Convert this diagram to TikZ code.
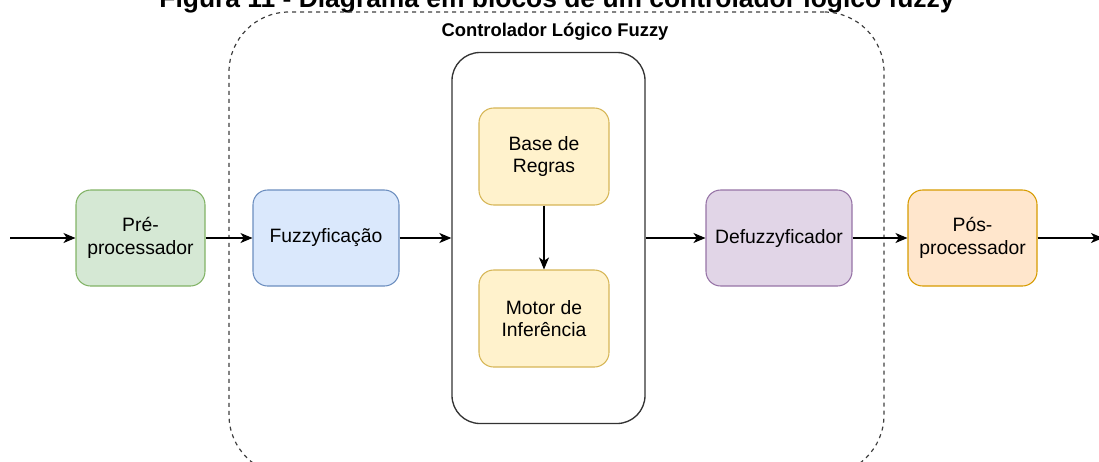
\documentclass[tikz,border=0pt]{standalone}
\usepackage{fontspec}
\setmainfont{Liberation Sans}
\usetikzlibrary{arrows.meta}

\definecolor{verdeF}{HTML}{D5E8D4}\definecolor{verdeL}{HTML}{82B366}
\definecolor{azulF}{HTML}{DAE8FC}\definecolor{azulL}{HTML}{6C8EBF}
\definecolor{amareloF}{HTML}{FFF2CC}\definecolor{amareloL}{HTML}{D6B656}
\definecolor{roxoF}{HTML}{E1D5E7}\definecolor{roxoL}{HTML}{9673A6}
\definecolor{laranjaF}{HTML}{FFE6CC}\definecolor{laranjaL}{HTML}{D79B00}

\tikzset{
  bloco/.style={draw,line width=0.8pt,rounded corners=11pt,align=center,inner sep=0pt,
    minimum width=96.75pt,minimum height=72pt,font=\fontsize{14.5}{17}\selectfont},
  >={Stealth[length=9pt,width=7.5pt,inset=2.5pt]}
}

\begin{document}
\begin{tikzpicture}[x=0.75pt,y=-0.75pt,line width=0.9pt]
                \useasboundingbox (0,0) rectangle (1099,461);
                \node[font=\bfseries\fontsize{19.8}{22}\selectfont,anchor=base] (titulo) at (557,7) {Figura 11 - Diagrama em blocos de um controlador lógico fuzzy};
                \node[draw=black!75,dash pattern=on 3pt off 3pt,line width=0.9pt,rounded corners=45pt,minimum width=491.25pt,minimum height=347.25pt] (sistema) at (556.5,243.5) {};
                \node[font=\bfseries\fontsize{13.8}{16}\selectfont] (rotulo) at (555,32) {Controlador Lógico Fuzzy};
                \node[draw=black!80,line width=1pt,rounded corners=21pt,minimum width=144.75pt,minimum height=278.25pt] (flc) at (548.5,238) {};
                \coordinate (entrada) at (10,238);
                \node[bloco,fill=verdeF,draw=verdeL] (pre) at (140.5,238) {Pré-\\processador};
                \node[bloco,fill=azulF,draw=azulL,minimum width=109.5pt] (fuzz) at (326,238) {Fuzzyficação};
                \node[bloco,fill=amareloF,draw=amareloL,minimum width=97.5pt,minimum height=72.75pt] (base) at (544,156.5) {Base de\\Regras};
                \node[bloco,fill=amareloF,draw=amareloL,minimum width=97.5pt,minimum height=72.75pt] (motor) at (544,318.5) {Motor de\\Inferência};
                \node[bloco,fill=roxoF,draw=roxoL,minimum width=109.5pt] (defuzz) at (779,238) {Defuzzyficador};
                \node[bloco,fill=laranjaF,draw=laranjaL] (pos) at (972.5,238) {Pós-\\processador};
                \coordinate (saida) at (1103,238);
                \draw [->] (entrada) -- (pre);
                \draw [->] (pre) -- (fuzz);
                \draw [->] (fuzz) -- (flc);
                \draw [->] (base) -- (motor);
                \draw [->] (flc) -- (defuzz);
                \draw [->] (defuzz) -- (pos);
                \draw [->] (pos) -- (saida);
            \end{tikzpicture}
\end{document}
